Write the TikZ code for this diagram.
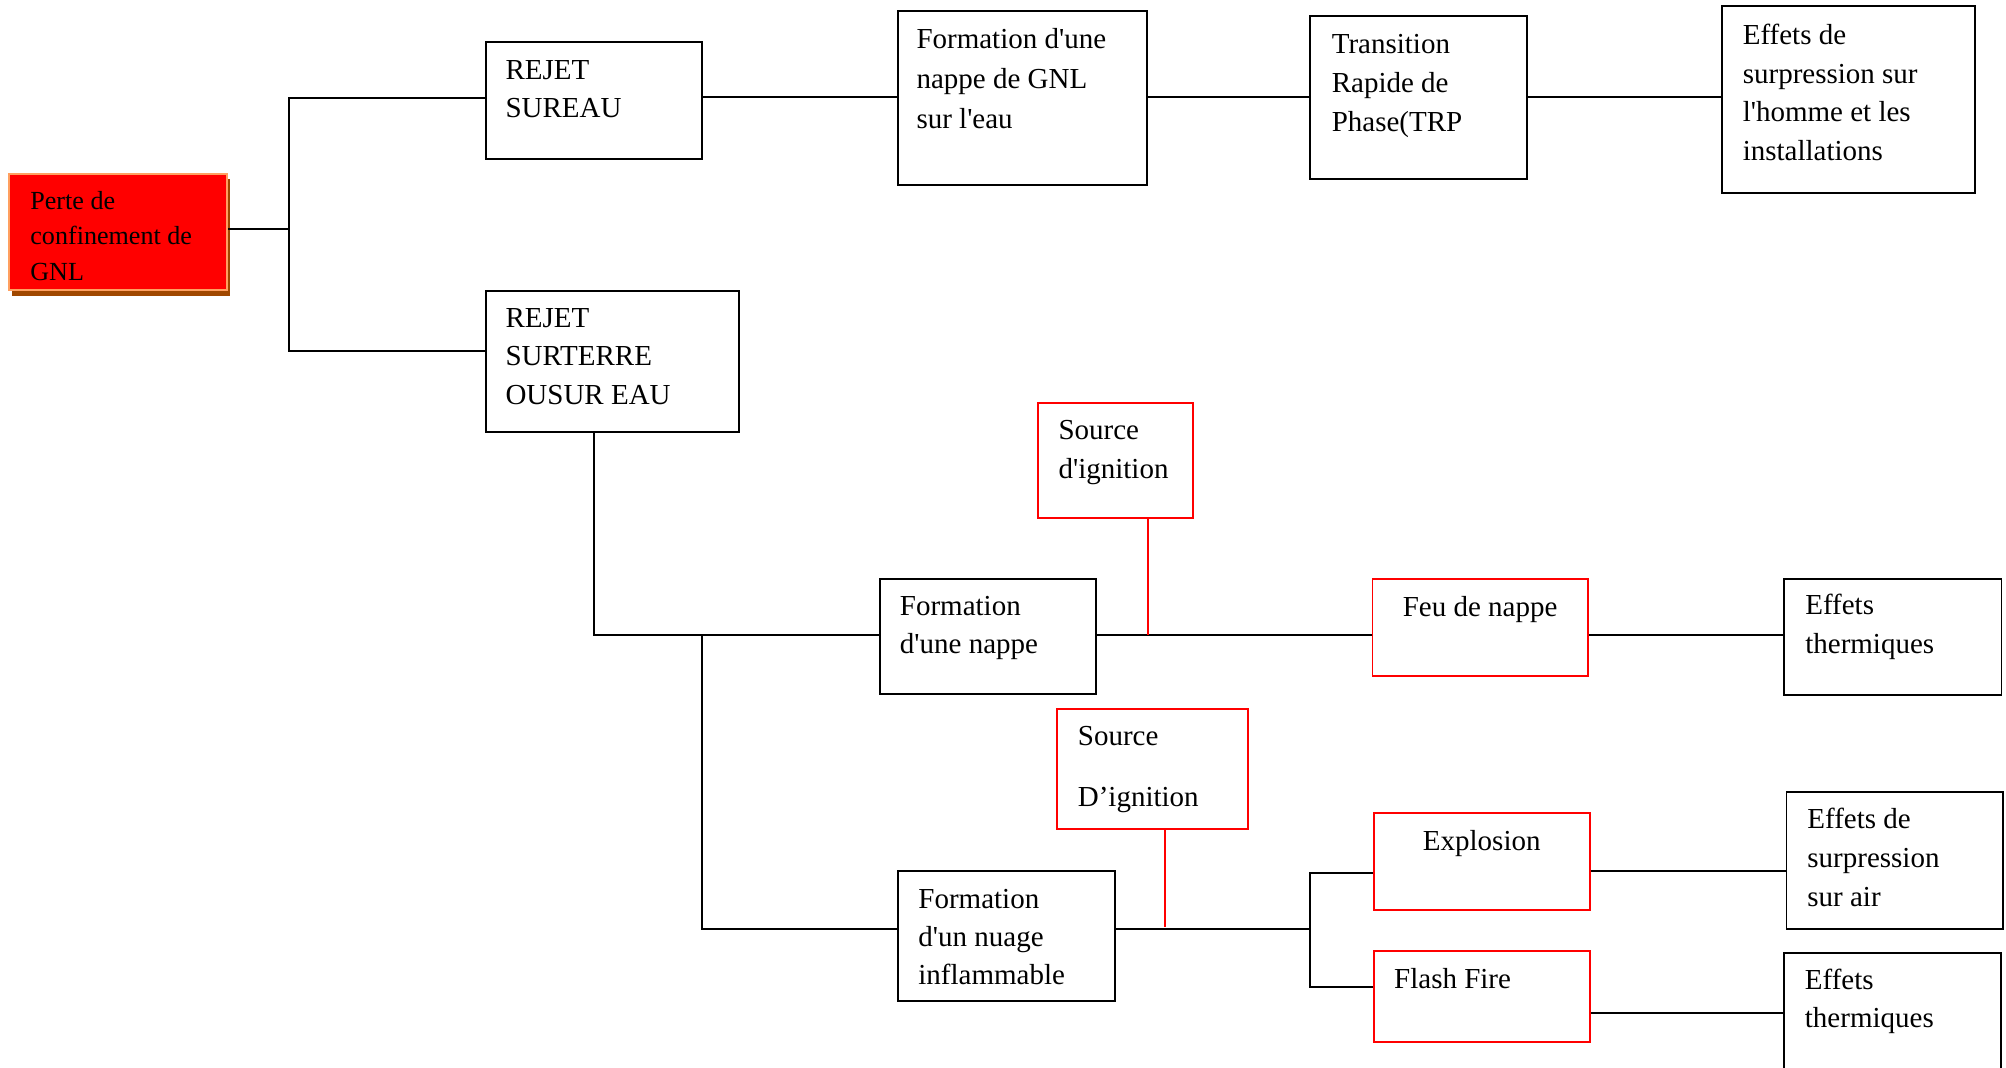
\documentclass[tikz,border=0pt]{standalone}
\usepackage{fontspec}
\setmainfont{Liberation Serif}
\usetikzlibrary{fit,calc}

\definecolor{lossfill}{RGB}{255,0,0}
\definecolor{lossedge}{RGB}{255,160,96}
\definecolor{lossshadow}{RGB}{160,72,0}

% straight apostrophe and stacked lines of a box text
\newcommand{\straightq}{\textquotesingle}
\newcommand{\boxlines}[1]{\parbox[t]{9cm}{\raggedright #1}}

\tikzset{
  frame/.style={draw=black, line width=0.8pt, inner sep=0pt, fill=white},
  redframe/.style={draw=red, line width=0.75pt, inner sep=0pt, fill=white},
  boxtext/.style={inner sep=0pt, anchor=base west, font=\fontsize{12}{16.1}\selectfont},
  boxtextc/.style={inner sep=0pt, anchor=base, font=\fontsize{12}{16.1}\selectfont},
  link/.style={draw=black, line width=0.75pt},
  redlink/.style={draw=red, line width=0.75pt},
}

\begin{document}
\begin{tikzpicture}[x=0.4138pt, y=-0.4138pt]
\fill[white] (0,0) rectangle (2006,1067);
\clip (0,0) rectangle (2006,1067);

% ---- root event with drop shadow
\fill[lossshadow] (12,179) rectangle (230,296);
\node[fit={(9,174) (227,290)}, fill=lossfill, draw=lossedge, line width=0.9pt, inner sep=0pt] (pc) {};
\node[boxtext, font=\fontsize{10.8}{14.5}\selectfont] (pc-t) at ($(pc.north west)+(22,37)$)
  {\boxlines{Perte de\\confinement de\\GNL}};

% ---- release branches
\node[frame, fit={(485.7,42.3) (702.3,158.7)}] (rs) {};
\node[boxtext] (rs-t) at ($(rs.north west)+(20.3,37.7)$) {\boxlines{REJET\\SUREAU}};

\node[frame, fit={(485.7,290.7) (739.3,431.7)}] (rt) {};
\node[boxtext] (rt-t) at ($(rt.north west)+(20.3,37.3)$) {\boxlines{REJET\\SURTERRE\\OUSUR EAU}};

% ---- upper chain: release on water
\node[frame, fit={(898,10.7) (1147,185.3)}] (fg) {};
\node[boxtext, font=\fontsize{12}{16.6}\selectfont] (fg-t) at ($(fg.north west)+(19,38.5)$)
  {\boxlines{Formation d\straightq une\\nappe de GNL\\sur l\straightq eau}};

\node[frame, fit={(1310,15.7) (1527,179)}] (tr) {};
\node[boxtext] (tr-t) at ($(tr.north west)+(22.3,38.5)$)
  {\boxlines{Transition\\Rapide de\\Phase(TRP}};

\node[frame, fit={(1722.3,6) (1975,192.7)}] (e1) {};
\node[boxtext, font=\fontsize{12}{16}\selectfont] (e1-t) at ($(e1.north west)+(21,39.5)$)
  {\boxlines{Effets de\\surpression sur\\l\straightq homme et les\\installations}};

% ---- pool branch
\node[frame, fit={(880,579) (1096.4,694.3)}] (fn) {};
\node[boxtext] (fn-t) at ($(fn.north west)+(20.4,37)$) {\boxlines{Formation\\d\straightq une nappe}};

\node[redframe, fit={(1037.7,402.7) (1192.7,518.3)}] (si1) {};
\node[boxtext] (si1-t) at ($(si1.north west)+(21.3,37.3)$) {\boxlines{Source\\d\straightq ignition}};

\node[redframe, fit={(1372.4,579) (1587.9,676)}] (fp) {};
\node[boxtextc] (fp-t) at ($(fp.north)+(0,38.3)$) {Feu de nappe};

\node[frame, fit={(1784.4,579) (2001.5,695)}] (e2) {};
\node[boxtext] (e2-t) at ($(e2.north west)+(21.4,36.5)$) {\boxlines{Effets\\thermiques}};

% ---- cloud branch
\node[frame, fit={(897.9,871) (1114.6,1001)}] (fnu) {};
\node[boxtext, font=\fontsize{12}{15.8}\selectfont] (fnu-t) at ($(fnu.north west)+(21,38)$)
  {\boxlines{Formation\\d\straightq un nuage\\inflammable}};

\node[redframe, fit={(1057.3,709.3) (1248.3,828.7)}] (si2) {};
\node[boxtext, font=\fontsize{12}{25.1}\selectfont] (si2-t) at ($(si2.north west)+(21,37.5)$)
  {\boxlines{Source\\D’ignition}};

\node[redframe, fit={(1373.6,812.7) (1589.9,910)}] (ex) {};
\node[boxtextc] (ex-t) at ($(ex.north)+(0,38.5)$) {Explosion};

\node[redframe, fit={(1373.6,951) (1589.9,1041.7)}] (ff) {};
\node[boxtext] (ff-t) at ($(ff.north west)+(21,38.8)$) {Flash Fire};

\node[frame, fit={(1786.5,791.7) (2002.8,929)}] (e3) {};
\node[boxtext] (e3-t) at ($(e3.north west)+(21.4,37.5)$) {\boxlines{Effets de\\surpression\\sur air}};

\node[frame, fit={(1784.4,952.7) (2000.7,1090)}] (e4) {};
\node[boxtext, font=\fontsize{12}{15.8}\selectfont] (e4-t) at ($(e4.north west)+(21,37.3)$)
  {\boxlines{Effets\\thermiques}};

% ---- connectors
\coordinate (j0) at (289,229);
\coordinate (jtop) at (289,98);
\coordinate (jbot) at (289,351);
\draw[link] (pc.east |- j0) -- (j0);
\draw[link] (rs.west |- jtop) -- (jtop) -- (jbot) -- (rt.west |- jbot);

\coordinate (row1) at (0,97);
\draw[link] (rs.east |- row1) -- (fg.west |- row1);
\draw[link] (fg.east |- row1) -- (tr.west |- row1);
\draw[link] (tr.east |- row1) -- (e1.west |- row1);

\coordinate (k1) at (594,635);
\coordinate (k2) at (702,635);
\coordinate (k3) at (702,929);
\draw[link] (rt.south -| k1) -- (k1) -- (fn.west |- k1);
\draw[link] (k2) -- (k3) -- (fnu.west |- k3);
\draw[link] (fn.east |- k1) -- (fp.west |- k1);
\draw[link] (fp.east |- k1) -- (e2.west |- k1);
\coordinate (s1) at (1148,635);
\draw[redlink] (si1.south -| s1) -- (s1);

\coordinate (m1) at (1310,929);
\coordinate (m2) at (1310,873);
\coordinate (m3) at (1310,987);
\draw[link] (fnu.east |- k3) -- (m1);
\draw[link] (ex.west |- m2) -- (m2) -- (m3) -- (ff.west |- m3);
\coordinate (s2) at (1165,927);
\draw[redlink] (si2.south -| s2) -- (s2);

\coordinate (r3) at (0,871);
\coordinate (r4) at (0,1013);
\draw[link] (ex.east |- r3) -- (e3.west |- r3);
\draw[link] (ff.east |- r4) -- (e4.west |- r4);
\end{tikzpicture}
\end{document}
